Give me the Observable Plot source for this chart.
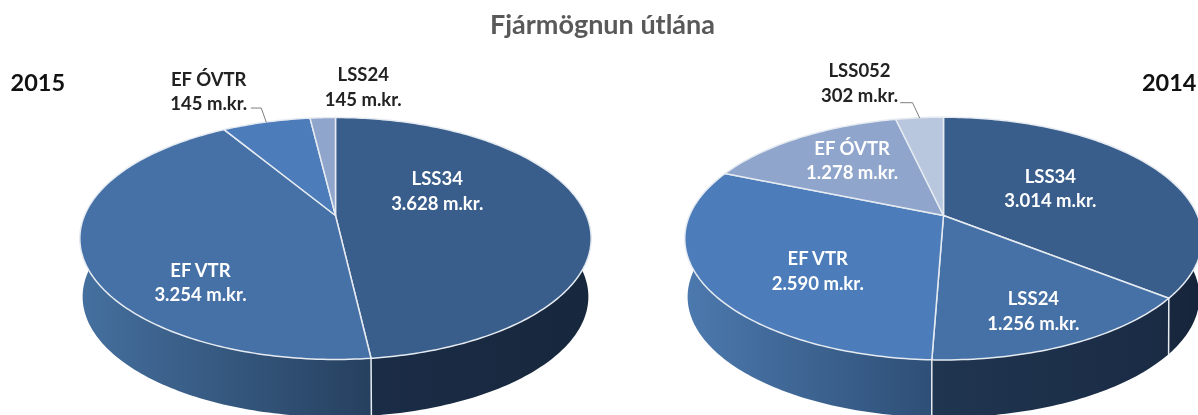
<!DOCTYPE html>
<html lang="is">
<head>
<meta charset="utf-8">
<script src="https://cdn.jsdelivr.net/npm/d3@7"></script>
<script src="https://cdn.jsdelivr.net/npm/@observablehq/plot@0.6"></script>
<style>
  html, body { margin: 0; padding: 0; background: #fff; overflow: hidden; }
  svg { display: block; filter: blur(0.45px); }
</style>
</head>
<body>
<div id="chart"></div>
<script>
// ---- data ----
const chartTitle = "Fjármögnun útlána";
const years = ["2015", "2014"];

const categories2015 = ["LSS34", "EF VTR", "EF ÓVTR", "LSS24"];
const labelValues2015 = [3628, 3254, 145, 145];
// the EF ÓVTR wedge is drawn larger than its printed 145: wedge sizes
const wedgeValues2015 = [3628, 3254, 505, 145];

const categories2014 = ["LSS34", "LSS24", "EF VTR", "EF ÓVTR", "LSS052"];
const labelValues2014 = [3014, 1256, 2590, 1278, 302];
const wedgeValues2014 = [3014, 1256, 2590, 1278, 302];

// ---- styling and layout ----
const topColors2015 = ["#395e8b", "#4671a6", "#4c7dba", "#90a5cc"];
const topColors2014 = ["#395e8b", "#4671a6", "#4c7dba", "#90a5cc", "#b8c6de"];
const wallStops2015 = [["#1b2c47", "#17273c"], ["#45709f", "#26405f"], null, null];
const wallStops2014 = [["#18283e", "#16243a"], ["#203550", "#1a2b44"], ["#4c79ae", "#2e4f76"], null, null];

const geom2015 = {cx: 335, cy: 215, A: 251, B: 116.6, k: 0.19, wallK: 0.21, depth: 56, shrink: 0.985};
const geom2014 = {cx: 943, cy: 215, A: 254, B: 117, k: 0.19, wallK: 0.21, depth: 56, shrink: 0.985};

// label anchor: radius fraction along the wedge's mid angle, plus a nudge in px
const labelLayout2015 = [
  {r: 0.45, dx: -10.5, dy: -23, fill: "#fff"},
  {r: 0.5, dx: -12.5, dy: 46, fill: "#fff"},
  {r: 1, dx: -57.5, dy: -32, fill: "#222", leader: [[-5, -14], [-15, -14]]},
  {r: 1, dx: 40.5, dy: -32, fill: "#222"}
];
const labelLayout2014 = [
  {r: 0.5, dx: -3, dy: -4, fill: "#fff"},
  {r: 0.6, dx: 19, dy: 23, fill: "#fff"},
  {r: 0.6, dx: 11, dy: 14, fill: "#fff"},
  {r: 0.6, dx: -1, dy: -7, fill: "#fff"},
  {r: 1, dx: -60, dy: -36, fill: "#222", leader: [[-7, -15], [-19, -15]]}
];

const fontFamily = "Lato, 'Open Sans', sans-serif";
const rimColor = "#e6ebf2";

// ---- perspective projection of the disc ----
function project(g, deg, r = 1, wall = false) {
  const t = deg * Math.PI / 180;
  const u = r * Math.sin(t), v = r * Math.cos(t), d = 1 + (wall ? g.wallK : g.k) * v;
  const s = wall ? g.shrink : 1;
  return {
    x: g.cx + s * g.A * u / d,
    y: g.cy + (wall ? g.depth : 0) - s * g.B * v / d
  };
}
function arcAngles(a, b) {
  const out = [];
  for (let t = a; t < b; t += 1) out.push(t);
  out.push(b);
  return out;
}
const fmt = n => String(n).replace(/\B(?=(\d{3})+$)/g, ".");

function gradientDefs(id, stops) {
  return () => {
    const defs = d3.create("svg:defs");
    const lg = defs.append("linearGradient").attr("id", id);
    lg.append("stop").attr("offset", "0%").attr("stop-color", stops[0]);
    lg.append("stop").attr("offset", "100%").attr("stop-color", stops[1]);
    return defs.node();
  };
}

function pieMarks(name, g, cats, shown, wedges, colors, wallStops, layout) {
  const total = d3.sum(wedges);
  const slices = [];
  let acc = 0;
  wedges.forEach((w, i) => {
    const a = acc / total * 360;
    acc += w;
    slices.push({i, a, b: acc / total * 360});
  });

  const walls = [], tops = [], rims = [], labels = [];
  slices.forEach(({i, a, b}) => {
    // side wall: only the part facing the viewer
    const lo = Math.max(a, 80), hi = Math.min(b, 280);
    if (wallStops[i] && hi > lo) {
      const angles = arcAngles(lo, hi);
      const pts = [...angles.map(t => project(g, t)), ...angles.slice().reverse().map(t => project(g, t, 1, true))];
      pts.push(pts[0]);
      const id = `wall-${name}-${i}`;
      walls.push(gradientDefs(id, wallStops[i]));
      walls.push(Plot.line(pts, {x: "x", y: "y", fill: `url(#${id})`, stroke: "none"}));
    }
    // top face
    const face = [project(g, 0, 0), ...arcAngles(a, b).map(t => project(g, t)), project(g, 0, 0)];
    tops.push(Plot.line(face, {x: "x", y: "y", fill: colors[i], stroke: rimColor, strokeWidth: 1.5, strokeLinejoin: "round"}));
    // divider running down the wall
    if (b > 90 && b < 270) {
      rims.push(Plot.line([project(g, b), project(g, b, 1, true)], {x: "x", y: "y", stroke: rimColor, strokeWidth: 1.5}));
    }
    // label
    const l = layout[i], mid = (a + b) / 2, p = project(g, mid, l.r);
    labels.push(Plot.text([{...p, text: `${cats[i]}\n${fmt(shown[i])} m.kr.`}], {
      x: "x", y: "y", text: "text", dx: l.dx, dy: l.dy, fill: l.fill,
      fontFamily, fontWeight: 700, fontSize: 18.5, lineHeight: 1.32, stroke: "none"
    }));
    if (l.leader) {
      labels.push(Plot.line([p, ...l.leader.map(([dx, dy]) => ({x: p.x + dx, y: p.y + dy}))], {
        x: "x", y: "y", stroke: "#7f7f7f", strokeWidth: 1
      }));
    }
  });
  return [...walls, ...tops, ...rims, ...labels];
}

const chart = Plot.plot({
  width: 1198,
  height: 415,
  margin: 0,
  style: {background: "#fff"},
  x: {domain: [0, 1198], range: [0, 1198], axis: null},
  y: {domain: [0, 415], range: [0, 415], axis: null},
  marks: [
    ...pieMarks("a", geom2015, categories2015, labelValues2015, wedgeValues2015, topColors2015, wallStops2015, labelLayout2015),
    ...pieMarks("b", geom2014, categories2014, labelValues2014, wedgeValues2014, topColors2014, wallStops2014, labelLayout2014),
    Plot.text([chartTitle], {frameAnchor: "top", dx: 3, dy: 14, text: d => d, fill: "#595959",
      fontFamily, fontWeight: 700, fontSize: 27, lineAnchor: "top"}),
    Plot.text([years[0]], {frameAnchor: "top-left", dx: 10, dy: 74, text: d => d, fill: "#111",
      fontFamily, fontWeight: 700, fontSize: 23.5, lineAnchor: "top"}),
    Plot.text([years[1]], {frameAnchor: "top-right", dx: -2, dy: 74, text: d => d, fill: "#111",
      fontFamily, fontWeight: 700, fontSize: 23.5, lineAnchor: "top"})
  ]
});
document.getElementById("chart").append(chart);
</script>
</body>
</html>
